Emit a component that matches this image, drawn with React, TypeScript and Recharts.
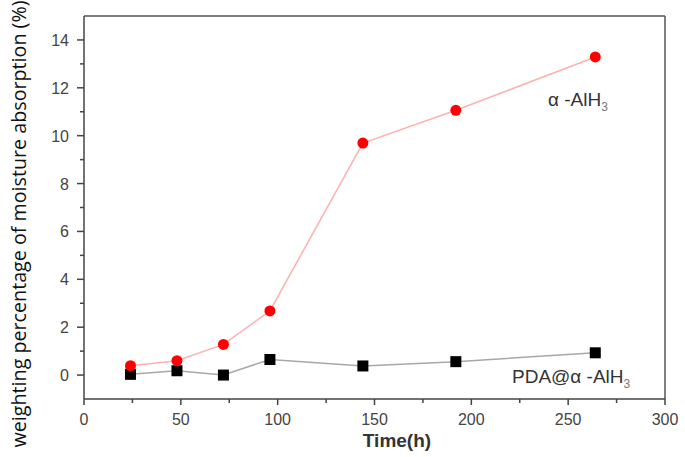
import { LineChart, Line, XAxis, YAxis, ReferenceLine } from 'recharts';

const hours = [24, 48, 72, 96, 144, 192, 264];
const alh3Values = [0.39, 0.6, 1.28, 2.68, 9.69, 11.06, 13.29];
const pdaValues = [0.03, 0.18, 0.0, 0.65, 0.38, 0.56, 0.93];
const xTicks = [0, 25, 50, 75, 100, 125, 150, 175, 200, 225, 250, 275, 300];
const yTicks = [0, 1, 2, 3, 4, 5, 6, 7, 8, 9, 10, 11, 12, 13, 14];

const rows = hours.map((h, i) => ({ time: h, alh3: alh3Values[i], pda: pdaValues[i] }));

const AXIS = '#444';
const TICK_FONT = '"Liberation Sans", Arial, sans-serif';

const XTick = (props: any) => {
  const { x, y, payload } = props;
  const major = payload.value % 50 === 0;
  return (
    <g>
      <line x1={x} x2={x} y1={y} y2={y + (major ? 6 : 4)} stroke={AXIS} strokeWidth={1.5} />
      {major && (
        <text x={x} y={y + 26} textAnchor="middle" fontSize={16} fill="#444" fontFamily={TICK_FONT}>
          {payload.value}
        </text>
      )}
    </g>
  );
};

const YTick = (props: any) => {
  const { x, y, payload } = props;
  const major = payload.value % 2 === 0;
  return (
    <g>
      <line x1={x} x2={x - (major ? 7 : 4)} y1={y} y2={y} stroke={AXIS} strokeWidth={1.5} />
      {major && (
        <text x={x - 15} y={y + 6} textAnchor="end" fontSize={16} fill="#444" fontFamily={TICK_FONT}>
          {payload.value}
        </text>
      )}
    </g>
  );
};

const SquareDot = (props: any) => {
  const { cx, cy } = props;
  if (cx == null || cy == null) return null;
  return <rect x={cx - 5.5} y={cy - 5.5} width={11} height={11} fill="#000" />;
};

const RoundDot = (props: any) => {
  const { cx, cy } = props;
  if (cx == null || cy == null) return null;
  return <circle cx={cx} cy={cy} r={5.5} fill="#ff0000" />;
};

export default function App() {
  return (
    <div style={{ position: 'absolute', left: 0, top: 0, width: 685, height: 457, background: '#fff' }}>
      <LineChart width={685} height={457} data={rows} margin={{ top: 16, right: 20, left: 0, bottom: 0 }}>
        <XAxis
          dataKey="time"
          type="number"
          domain={[0, 300]}
          ticks={xTicks}
          interval={0}
          height={58}
          tickSize={0}
          tickMargin={0}
          tickLine={false}
          tick={<XTick />}
          axisLine={{ stroke: AXIS, strokeWidth: 1.5 }}
        />
        <YAxis
          type="number"
          domain={[-1, 15]}
          ticks={yTicks}
          interval={0}
          width={84}
          tickSize={0}
          tickMargin={0}
          tickLine={false}
          tick={<YTick />}
          axisLine={{ stroke: AXIS, strokeWidth: 1.5 }}
        />
        <ReferenceLine y={15} stroke="#555" strokeWidth={1.5} />
        <ReferenceLine x={300} stroke="#555" strokeWidth={1.5} />
        <Line
          type="linear"
          dataKey="pda"
          stroke="#a8a8a8"
          strokeWidth={1.5}
          dot={<SquareDot />}
          isAnimationActive={false}
        />
        <Line
          type="linear"
          dataKey="alh3"
          stroke="#ffb0b0"
          strokeWidth={1.5}
          dot={<RoundDot />}
          isAnimationActive={false}
        />
        <text x={548} y={106} fontSize={19} fill="#333" fontFamily={TICK_FONT}>
          α -AlH<tspan dy={5} fontSize={12} fill="#777">3</tspan>
        </text>
        <text x={512} y={383} fontSize={19} fill="#333" fontFamily={TICK_FONT}>
          PDA@α -AlH<tspan dy={5} fontSize={12} fill="#777">3</tspan>
        </text>
        <text x={397} y={447} textAnchor="middle" fontSize={19} fontWeight="bold" fill="#333" fontFamily={TICK_FONT}>
          Time(h)
        </text>
        <text
          transform="translate(26, 224) rotate(-90)"
          textAnchor="middle"
          fontSize={19.7}
          fill="#111"
          fontFamily='"Open Sans", sans-serif'
        >
          weighting percentage of moisture absorption (%)
        </text>
      </LineChart>
    </div>
  );
}
